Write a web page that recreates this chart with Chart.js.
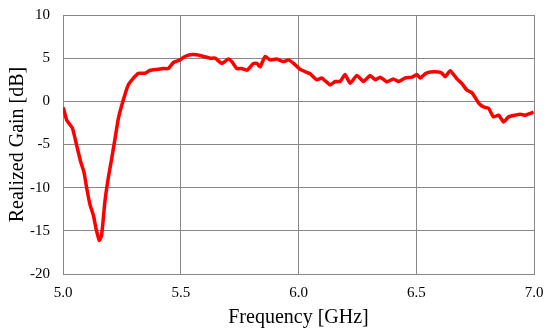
<!DOCTYPE html>
<html>
<head>
<meta charset="utf-8">
<script src="https://cdn.jsdelivr.net/npm/chart.js@4/dist/chart.umd.min.js"></script>
<style>
    html, body { margin: 0; padding: 0; background: #fff; }
    #wrap { width: 550px; height: 334px; }
</style>
</head>
<body>
<div id="wrap"><canvas id="gainChart"></canvas></div>
<script>
// ---------------------- les données ----------------------//
const freqs = [5.001, 5.016, 5.040, 5.058, 5.075, 5.089, 5.101, 5.115, 5.129, 5.140,
    5.154, 5.164, 5.178, 5.192, 5.207, 5.221, 5.235, 5.256, 5.277, 5.299,
    5.320, 5.348, 5.370, 5.398, 5.426, 5.447, 5.469, 5.497, 5.518, 5.540,
    5.568, 5.596, 5.625, 5.646, 5.674, 5.702, 5.717, 5.738, 5.759, 5.781,
    5.809, 5.823, 5.837, 5.858, 5.880, 5.908, 5.936, 5.957, 5.979, 6.007,
    6.035, 6.049, 6.078, 6.099, 6.134, 6.156, 6.177, 6.198, 6.219, 6.248,
    6.276, 6.304, 6.326, 6.347, 6.375, 6.403, 6.425, 6.453, 6.482, 6.503,
    6.517, 6.538, 6.559, 6.595, 6.609, 6.623, 6.644, 6.673, 6.694, 6.715,
    6.737, 6.765, 6.786, 6.807, 6.828, 6.850, 6.871, 6.892, 6.921, 6.942,
    6.963, 6.984, 6.998];
const gains = [-0.7, -2.2, -3.1, -5.1, -7.0, -8.2, -10.1, -12.0, -13.2, -14.7,
    -16.1, -15.5, -11.6, -8.9, -6.6, -4.3, -2.0, 0.15, 1.9, 2.7,
    3.25, 3.25, 3.6, 3.7, 3.8, 3.8, 4.5, 4.8, 5.2, 5.4,
    5.4, 5.2, 5.0, 5.0, 4.4, 4.9, 4.6, 3.8, 3.8, 3.6,
    4.4, 4.4, 4.0, 5.2, 4.8, 4.9, 4.6, 4.8, 4.4, 3.7,
    3.35, 3.2, 2.5, 2.7, 1.9, 2.3, 2.3, 3.1, 2.1, 3.0,
    2.3, 3.0, 2.5, 2.8, 2.25, 2.6, 2.3, 2.7, 2.8, 3.1,
    2.7, 3.2, 3.4, 3.4, 3.25, 2.85, 3.55, 2.6, 2.05, 1.3,
    1.0, -0.2, -0.65, -0.8, -1.8, -1.6, -2.4, -1.8, -1.6, -1.5,
    -1.6, -1.4, -1.25];
const xTicks = [5.0, 5.5, 6.0, 6.5, 7.0];
const yTicks = [-20, -15, -10, -5, 0, 5, 10];
//-----------------------------------------------------------------------------//

const points = freqs.map((f, i) => ({ x: f, y: gains[i] }));
const serif = "'Liberation Serif', 'DejaVu Serif', serif";
const gridGray = '#888888';

const ctx = document.getElementById('gainChart').getContext('2d');
const myChart = new Chart(ctx, {
    type: 'scatter',
    data: {
        datasets: [{
            label: 'Realized Gain',
            data: points,
            showLine: true,
            borderColor: '#ff0000',
            backgroundColor: '#ff0000',
            borderWidth: 3.5,
            pointRadius: 0,
            tension: 0.15
        }]
    },
    options: {
        responsive: true,
        maintainAspectRatio: false,
        animation: false,
        layout: { padding: { top: 15, right: 16, left: 0, bottom: 0 } },
        plugins: { legend: { display: false }, tooltip: { enabled: false } },
        scales: {
            x: {
                type: 'linear',
                min: xTicks[0],
                max: xTicks[xTicks.length - 1],
                afterBuildTicks: (scale) => { scale.ticks = xTicks.map(v => ({ value: v })); },
                afterFit: (scale) => {
                    scale.height = 60;
                    scale.paddingLeft = 0;
                    scale.paddingRight = 0;
                },
                ticks: {
                    padding: 10,
                    color: '#000',
                    font: { family: serif, size: 15 },
                    callback: (v) => Number(v).toFixed(1)
                },
                grid: { color: gridGray, lineWidth: 1, drawTicks: false },
                border: { color: gridGray, width: 1 },
                title: {
                    display: true,
                    text: 'Frequency [GHz]',
                    color: '#000',
                    font: { family: serif, size: 20 },
                    padding: { top: 0, bottom: 4 }
                }
            },
            y: {
                min: yTicks[0],
                max: yTicks[yTicks.length - 1],
                afterBuildTicks: (scale) => { scale.ticks = yTicks.map(v => ({ value: v })); },
                afterFit: (scale) => {
                    scale.width = 63;
                    scale.paddingTop = 0;
                    scale.paddingBottom = 0;
                },
                ticks: {
                    padding: 13,
                    color: '#000',
                    font: { family: serif, size: 15 }
                },
                grid: { color: gridGray, lineWidth: 1, drawTicks: false },
                border: { color: gridGray, width: 1 },
                title: {
                    display: true,
                    text: 'Realized Gain [dB]',
                    color: '#000',
                    font: { family: serif, size: 20 },
                    padding: { top: 6, bottom: 0 }
                }
            }
        }
    }
});
</script>
</body>
</html>
